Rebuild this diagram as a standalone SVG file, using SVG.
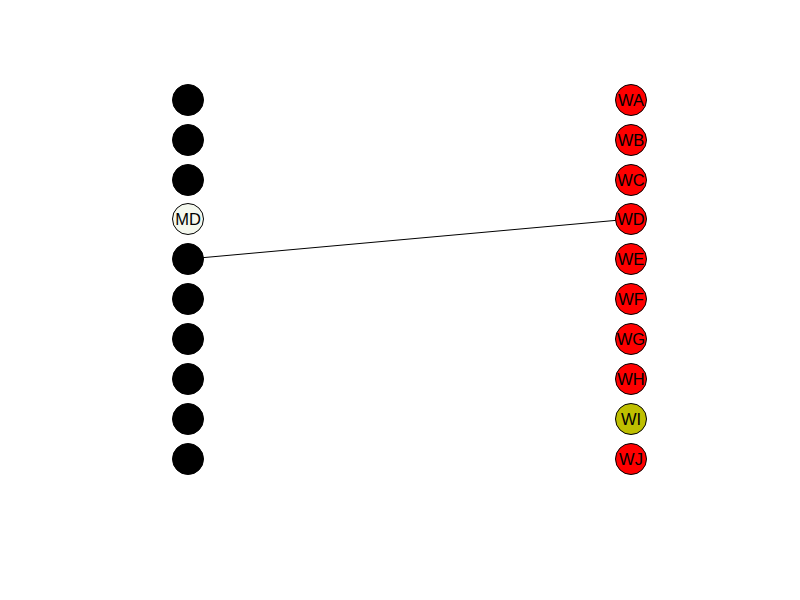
<svg xmlns="http://www.w3.org/2000/svg" width="800" height="600" viewBox="0 0 800 600">
<style>
.n{stroke:#000;stroke-width:1}
.b{fill:#000}
.r{fill:#ff0000}
text{font-family:"Liberation Sans",Arial,sans-serif;font-size:16.5px;fill:#000;text-anchor:middle;dominant-baseline:central}
.e{stroke:#000;stroke-width:1;fill:none}
</style>
<rect width="800" height="600" fill="#fff"/>
<g id="edges"><line class="e" x1="188" y1="259" x2="631" y2="219"/></g>
<g id="n1"><circle class="n b" cx="188" cy="100" r="15.5"/></g>
<g id="n2"><circle class="n b" cx="188" cy="140" r="15.5"/></g>
<g id="n3"><circle class="n b" cx="188" cy="180" r="15.5"/></g>
<g id="MD"><circle class="n" fill="#f4f8ee" cx="188" cy="219" r="15.5"/><text x="188" y="218.5">MD</text></g>
<g id="n5"><circle class="n b" cx="188" cy="259" r="15.5"/></g>
<g id="n6"><circle class="n b" cx="188" cy="299" r="15.5"/></g>
<g id="n7"><circle class="n b" cx="188" cy="339" r="15.5"/></g>
<g id="n8"><circle class="n b" cx="188" cy="379" r="15.5"/></g>
<g id="n9"><circle class="n b" cx="188" cy="419" r="15.5"/></g>
<g id="n10"><circle class="n b" cx="188" cy="459" r="15.5"/></g>
<g id="WA"><circle class="n r" cx="631" cy="100" r="15.5"/><text x="631" y="99.5">WA</text></g>
<g id="WB"><circle class="n r" cx="631" cy="140" r="15.5"/><text x="631" y="139.5">WB</text></g>
<g id="WC"><circle class="n r" cx="631" cy="180" r="15.5"/><text x="631" y="179.5">WC</text></g>
<g id="WD"><circle class="n r" cx="631" cy="219" r="15.5"/><text x="631" y="218.5">WD</text></g>
<g id="WE"><circle class="n r" cx="631" cy="259" r="15.5"/><text x="631" y="258.5">WE</text></g>
<g id="WF"><circle class="n r" cx="631" cy="299" r="15.5"/><text x="631" y="298.5">WF</text></g>
<g id="WG"><circle class="n r" cx="631" cy="339" r="15.5"/><text x="631" y="338.5">WG</text></g>
<g id="WH"><circle class="n r" cx="631" cy="379" r="15.5"/><text x="631" y="378.5">WH</text></g>
<g id="WI"><circle class="n" fill="#bfbf00" cx="631" cy="419" r="15.5"/><text x="631" y="418.5">WI</text></g>
<g id="WJ"><circle class="n r" cx="631" cy="459" r="15.5"/><text x="631" y="458.5">WJ</text></g>
</svg>
